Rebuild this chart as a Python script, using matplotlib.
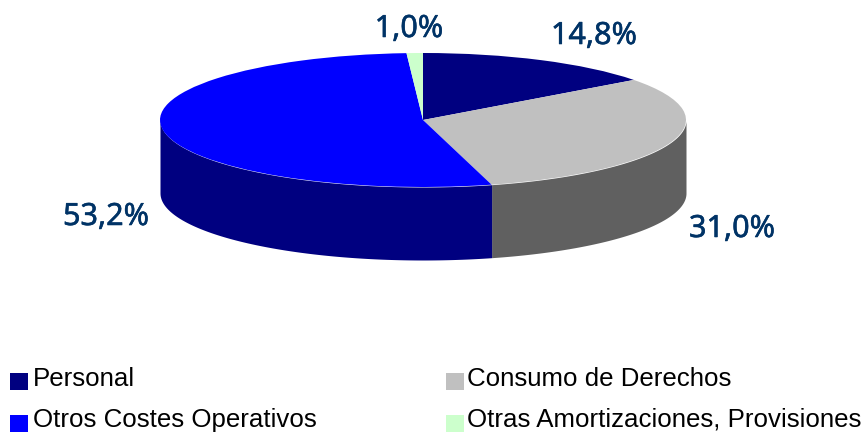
import numpy as np
import matplotlib
matplotlib.use('Agg')
import matplotlib.pyplot as plt
import matplotlib.patheffects as pe
from matplotlib.patches import Rectangle

categories = ['Personal', 'Consumo de Derechos', 'Otros Costes Operativos',
              'Otras Amortizaciones, Provisiones']
values = [14.8, 31.0, 53.2, 1.0]
labels = ['14,8%', '31,0%', '53,2%', '1,0%']

top_colors = ['#000080', '#C0C0C0', '#0000FF', '#CCFFCC']
side_colors = ['#000060', '#606060', '#000080', '#99CC99']

W, H = 867, 432
CX, CY, RX, RY, DEPTH = 423, 120, 263, 67, 73


def px(x, y):
    return (x - CX) / RX, (CY - y) / RY


fig = plt.figure(figsize=(W / 100, H / 100), dpi=100)
ax = fig.add_axes([0, 0, 1, 1])

# side walls go under the pie, only the front half of the ellipse shows
d = DEPTH / RY
edges = np.cumsum([0] + values) / sum(values) * 2 * np.pi
for i, col in enumerate(side_colors):
    t = np.linspace(edges[i], edges[i + 1], 200)
    t = t[np.cos(t) <= 0]
    if len(t) == 0:
        continue
    xs, ys = np.sin(t), np.cos(t)
    ax.fill_between(xs, ys, ys - d, color=col, lw=0, zorder=1)

ax.pie(values, colors=top_colors, startangle=90, counterclock=False, radius=1,
       center=(0, 0), wedgeprops=dict(linewidth=0, zorder=2))
ax.set_aspect('auto')
ax.set_xlim(-CX / RX, (W - CX) / RX)
ax.set_ylim((CY - H) / RY, CY / RY)
ax.axis('off')

label_pos = [(594, 36), (732, 229), (106, 217), (409, 29)]
for txt, (x, y) in zip(labels, label_pos):
    lx, ly = px(x, y)
    t = ax.text(lx, ly, txt, ha='center', va='center', fontsize=22, color='#003366',
                family='Noto Sans')
    # no medium weight installed, thicken a bit
    t.set_path_effects([pe.withStroke(linewidth=0.4, foreground='#003366')])

# legend by hand, two columns
leg_pos = [(10, 390), (446, 390), (10, 432), (446, 432)]
text_x = [33, 467, 33, 467]
text_y = [379, 379, 420, 420]
for name, col, (x, y), tx0, ty0 in zip(categories, top_colors, leg_pos, text_x, text_y):
    lx, ly = px(x, y)
    ax.add_patch(Rectangle((lx, ly), 18 / RX, 17 / RY, facecolor=col, edgecolor='none', zorder=3))
    tx, ty = px(tx0, ty0)
    ax.text(tx, ty, name, ha='left', va='center', fontsize=18.6, color='black',
            family='Liberation Sans')

fig.savefig('out.png', dpi=100, facecolor='white')
